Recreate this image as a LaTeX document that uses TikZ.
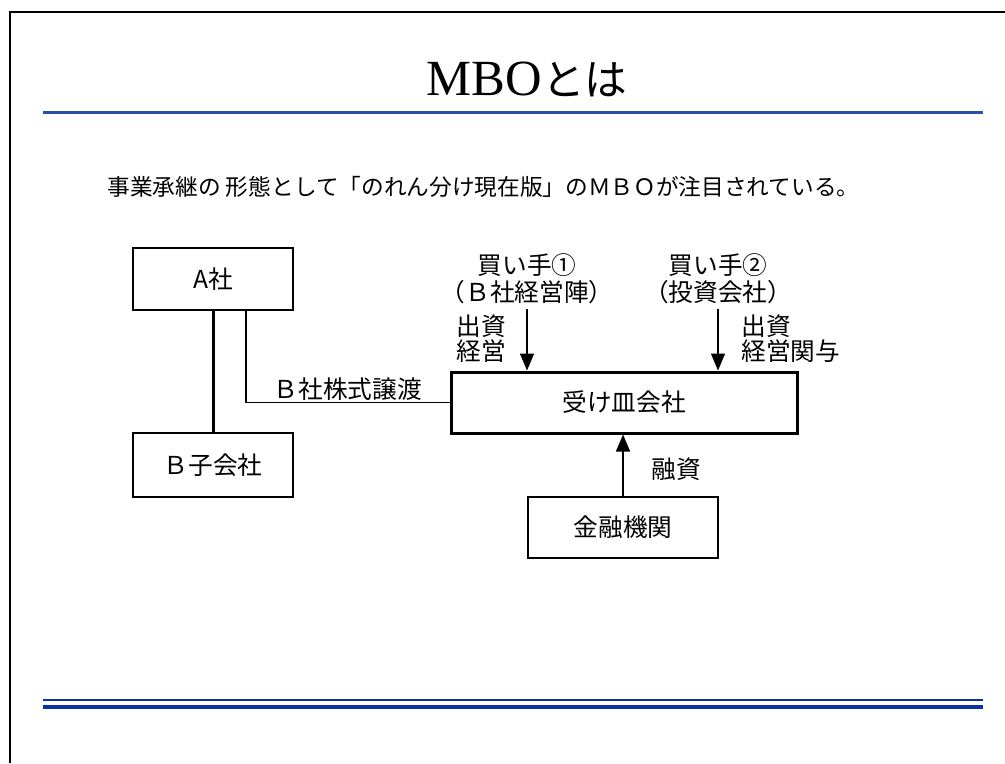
\documentclass[tikz,border=0pt]{standalone}
\usepackage{fontspec}
\setmainfont{Noto Sans CJK JP}
\newfontfamily\titleserif{Liberation Serif}
\usetikzlibrary{arrows.meta}
\newcommand{\pxu}{0.75pt}
\definecolor{topblue}{RGB}{40,80,170}
\definecolor{botblue}{RGB}{10,50,160}
\tikzset{
  lbl/.style={inner sep=1pt, font=\fontsize{18.5}{21}\selectfont},
  box/.style={draw, line width=1.5*\pxu, inner sep=0pt, font=\fontsize{18.5}{21}\selectfont},
  arr/.style={line width=1.5*\pxu, -{Triangle[width=14*\pxu, length=17*\pxu]}},
  thinline/.style={line width=1.5*\pxu},
}
\begin{document}
\begin{tikzpicture}[x=0.75pt, y=-0.75pt]
\useasboundingbox (0,0) rectangle (1005,763);
% frame
\draw[line width=2*\pxu] (10,763) -- (10,12) -- (1005,12);
% rules
\draw[topblue, line width=3*\pxu] (43,113) -- (983,113);
\draw[botblue, line width=2.5*\pxu] (43,700) -- (983,700);
\draw[botblue, line width=4.5*\pxu] (43,707) -- (983,707);
% title
\node (title) at (527,80) {{\titleserif\fontsize{38}{40}\selectfont MBO}{\rmfamily\fontsize{32}{36}\selectfont とは}};
% subtitle
\node[lbl, anchor=west, font=\fontsize{17}{20}\selectfont] (sub) at (106,187) {事業承継の 形態として「のれん分け現在版」のＭＢＯが注目されている。};
% boxes
\node[box, minimum width=160*\pxu, minimum height=62*\pxu] (A) at (213,279) {A社};
\node[box, minimum width=160*\pxu, minimum height=64*\pxu] (Bs) at (213,465) {Ｂ子会社};
\node[box, line width=3*\pxu, minimum width=346*\pxu, minimum height=61*\pxu] (U) at (624,402.5) {受け皿会社};
\node[box, minimum width=190*\pxu, minimum height=61*\pxu] (F) at (623,527.5) {金融機関};
% buyers
\node[lbl] (b1a) at (527,265) {買い手①};
\node[lbl] (b1b) at (527,292) {（Ｂ社経営陣）};
\node[lbl] (b2a) at (718,265) {買い手②};
\node[lbl] (b2b) at (718,292) {（投資会社）};
\node[lbl, anchor=west] (l1a) at (455,326) {出資};
\node[lbl, anchor=west] (l1b) at (455,351) {経営};
\node[lbl, anchor=west] (l2a) at (740,326) {出資};
\node[lbl, anchor=west] (l2b) at (740,351) {経営関与};
\node[lbl] (loan) at (676,469) {融資};
% connectors
\draw[line width=3*\pxu] (A.south) -- (Bs.north);
\draw[thinline] ([xshift=33*\pxu]A.south) |- (U.west)
  node[lbl, pos=0.75, above=0pt] (trans) {Ｂ社株式譲渡};
\draw[arr] ([yshift=-3pt]b1b.south) -- (b1b.south |- U.north);
\draw[arr] ([yshift=-3pt]b2b.south) -- (b2b.south |- U.north);
\draw[arr] (F.north) -- (F.north |- U.south);
\end{tikzpicture}
\end{document}
